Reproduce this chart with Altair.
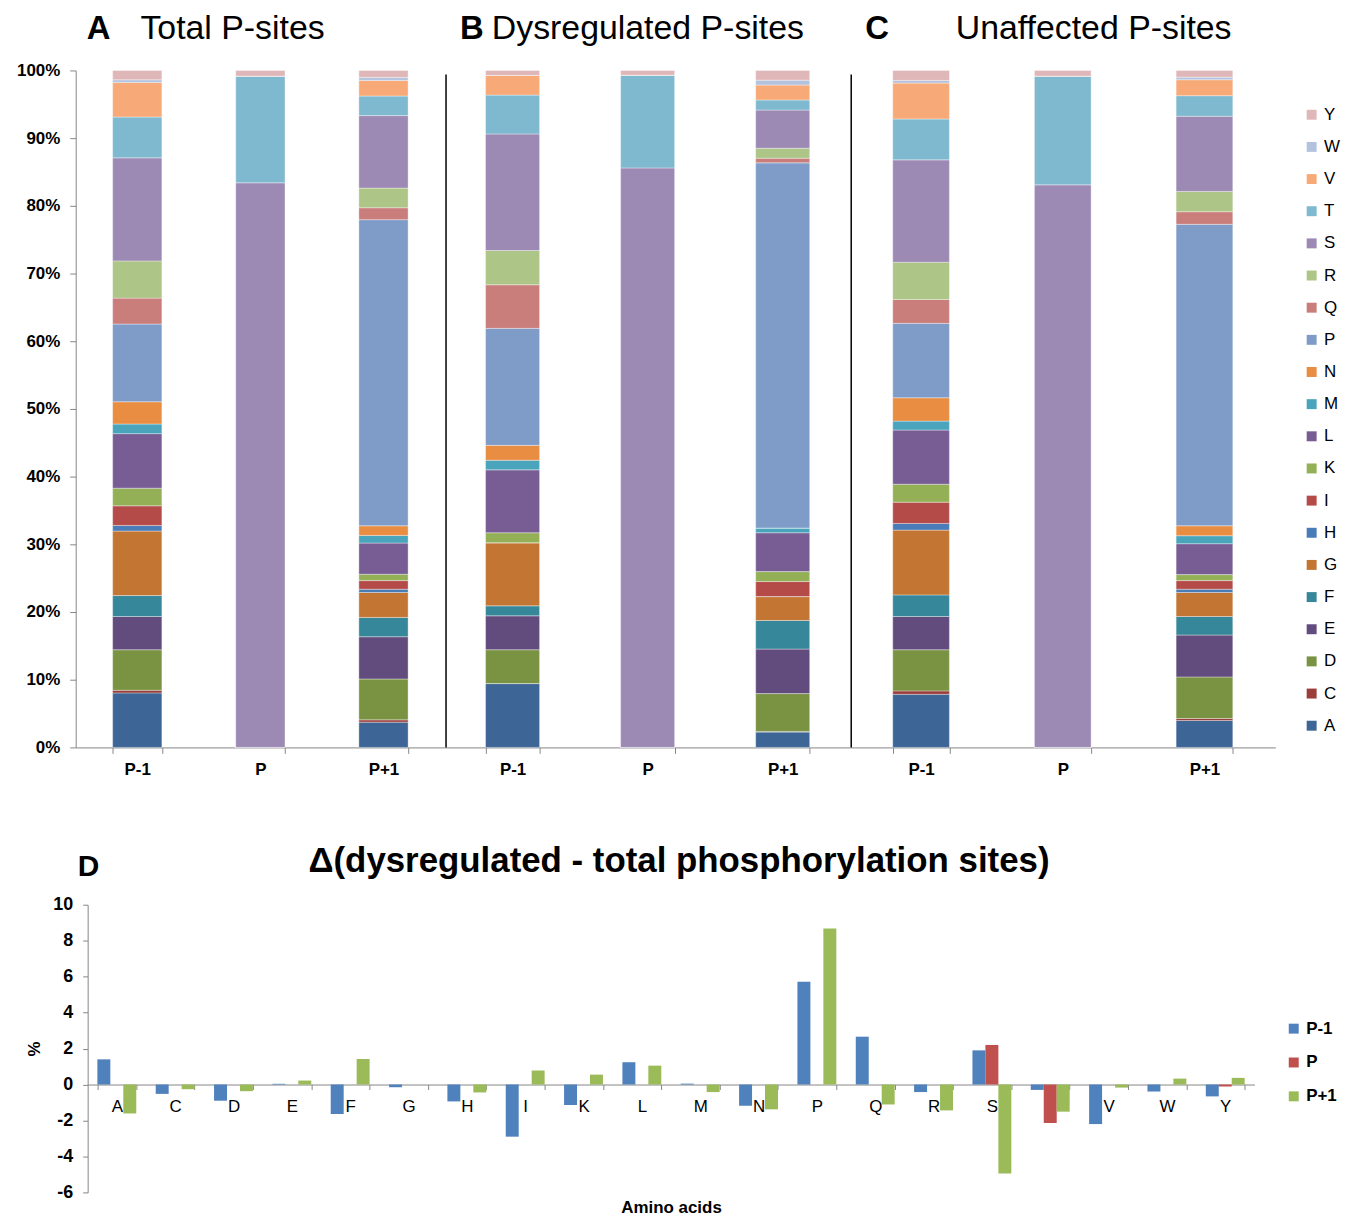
import altair as alt
import pandas as pd

FONT = "Liberation Sans"

# ---------------- data ----------------
amino_acids = ["A", "C", "D", "E", "F", "G", "H", "I", "K", "L",
               "M", "N", "P", "Q", "R", "S", "T", "V", "W", "Y"]
positions = ["P-1", "P", "P+1"]
aa_colors = ["#3D6596", "#9B3D3A", "#7A9343", "#624C7D", "#37879A",
             "#C37633", "#4A7DB8", "#B54B49", "#93B056", "#785D95",
             "#4AA4BC", "#E98D43", "#7F9CC8", "#C97E7C", "#ADC586",
             "#9C8AB4", "#7FB9CF", "#F7AA78", "#B3C3DF", "#E0B7B8"]

# Panel A: total P-sites (% of residues at each position)
total_pm1 = [8.05, 0.39, 5.99, 4.91, 3.09, 9.53, 0.83, 2.90, 2.60, 8.06,
             1.42, 3.29, 11.48, 3.83, 5.50, 15.22, 6.03, 5.11, 0.39, 1.38]
total_p = [0, 0, 0, 0, 0, 0, 0, 0, 0, 0,
           0, 0, 0, 0, 0, 83.40, 15.76, 0, 0, 0.84]
total_pp1 = [3.73, 0.34, 6.04, 6.24, 2.85, 3.68, 0.49, 1.27, 0.94, 4.61,
             1.13, 1.42, 45.22, 1.76, 2.90, 10.71, 2.89, 2.31, 0.44, 1.03]

# Panel B: dysregulated P-sites
dys_pm1 = [9.43, 0, 5.00, 5.01, 1.47, 9.33, 0, 0, 1.47, 9.29,
           1.42, 2.20, 17.28, 6.44, 5.06, 17.22, 5.74, 2.90, 0, 0.74]
dys_p = [0, 0, 0, 0, 0, 0, 0, 0, 0, 0,
         0, 0, 0, 0, 0, 85.60, 13.70, 0, 0, 0.70]
dys_pp1 = [2.26, 0.10, 5.59, 6.58, 4.22, 3.53, 0, 2.22, 1.47, 5.74,
           0.69, 0, 53.95, 0.69, 1.47, 5.64, 1.48, 2.21, 0.73, 1.43]

# Panel C: unaffected P-sites
unaff_pm1 = [7.85, 0.50, 6.08, 4.91, 3.19, 9.57, 0.99, 3.14, 2.65, 8.00,
             1.32, 3.45, 10.99, 3.53, 5.51, 15.11, 6.04, 5.30, 0.40, 1.47]
unaff_p = [0, 0, 0, 0, 0, 0, 0, 0, 0, 0,
           0, 0, 0, 0, 0, 83.10, 16.06, 0, 0, 0.84]
unaff_pp1 = [3.98, 0.29, 6.14, 6.19, 2.74, 3.54, 0.49, 1.27, 0.89, 4.56,
             1.18, 1.47, 44.53, 1.86, 3.00, 11.10, 3.04, 2.36, 0.38, 0.99]

panel_letters = ["A", "B", "C"]
panel_names = ["Total P-sites", "Dysregulated P-sites", "Unaffected P-sites"]
top_y_ticks = [0, 10, 20, 30, 40, 50, 60, 70, 80, 90, 100]

# Panel D: difference dysregulated - total (percentage points)
delta_pm1 = [1.40, -0.52, -0.90, 0.04, -1.64, -0.15, -0.94, -2.90, -1.14, 1.24,
             0.05, -1.18, 5.72, 2.66, -0.42, 1.90, -0.30, -2.20, -0.39, -0.66]
delta_p = [0, 0, 0, 0, 0, 0, 0, 0, 0, 0,
           0, 0, 0, 0, 0, 2.20, -2.14, 0, 0, -0.11]
delta_pp1 = [-1.61, -0.26, -0.37, 0.22, 1.42, 0, -0.44, 0.78, 0.55, 1.05,
             -0.42, -1.38, 8.67, -1.11, -1.44, -4.95, -1.51, -0.17, 0.33, 0.37]
series_colors = ["#4F81BD", "#C0504D", "#9BBB59"]
delta_letter = "D"
delta_title = "Δ(dysregulated - total phosphorylation sites)"
delta_x_title = "Amino acids"
delta_y_title = "%"
delta_y_ticks = [-6, -4, -2, 0, 2, 4, 6, 8, 10]

AXIS_GRAY = "#868686"
TOP_H = 680


def composition(pm1, p, pp1):
    rows = []
    for pos, vals in zip(positions, (pm1, p, pp1)):
        for i, (a, v) in enumerate(zip(amino_acids, vals)):
            rows.append({"position": pos, "aa": a, "rank": i, "pct": v})
    return pd.DataFrame(rows)


def label_text(text, dx, dy, size, weight, align="left"):
    return alt.Chart(pd.DataFrame({"t": [text]})).mark_text(
        font=FONT, fontSize=size, fontWeight=weight, align=align,
        baseline="alphabetic", color="black"
    ).encode(x=alt.value(dx), y=alt.value(dy), text="t:N")


def panel(df, width, letter, name, letter_dx, name_dx, first, last):
    if last:
        legend = alt.Legend(
            title=None, orient="none", legendX=455, legendY=36,
            symbolType="square", symbolSize=100, symbolStrokeWidth=0,
            labelFont=FONT, labelFontSize=17, labelColor="black",
            labelOffset=4, rowPadding=14.3, padding=0)
    else:
        legend = None
    if first:
        yaxis = alt.Axis(values=top_y_ticks, labelExpr="datum.value + '%'",
                         title=None, grid=False, domainColor=AXIS_GRAY,
                         tickColor=AXIS_GRAY, tickSize=6, labelFont=FONT,
                         labelFontSize=17, labelFontWeight="bold",
                         labelColor="black", labelPadding=10)
    else:
        yaxis = None
    bars = alt.Chart(df).mark_bar(stroke="white", strokeWidth=0.6,
                                  strokeOpacity=0.6).encode(
        x=alt.X("position:N",
                scale=alt.Scale(domain=positions, paddingInner=0.6, paddingOuter=0.3),
                axis=alt.Axis(title=None, labelAngle=0, labelFont=FONT,
                              labelFontSize=17, labelFontWeight="bold",
                              labelColor="black", domainColor=AXIS_GRAY,
                              tickColor=AXIS_GRAY, tickSize=6, tickBand="extent",
                              labelPadding=8)),
        y=alt.Y("pct:Q", stack="zero",
                scale=alt.Scale(domain=[0, 100], nice=False), axis=yaxis),
        color=alt.Color("aa:N",
                        scale=alt.Scale(domain=amino_acids[::-1], range=aa_colors[::-1]),
                        legend=legend),
        order=alt.Order("rank:Q", sort="ascending"),
    )
    layers = [bars,
              label_text(letter, letter_dx, -32, 33, "bold"),
              label_text(name, name_dx, -32, 34, "normal")]
    if not first:
        layers.append(alt.Chart(pd.DataFrame({"t": [0]})).mark_rule(
            color="black", strokeWidth=1.5).encode(
            x=alt.value(1), y=alt.value(4), y2=alt.value(TOP_H)))
    return alt.layer(*layers).properties(width=width, height=TOP_H)


pA = panel(composition(total_pm1, total_p, total_pp1), 371,
           panel_letters[0], panel_names[0], 11, 65, True, False)
pB = panel(composition(dys_pm1, dys_p, dys_pp1), 407,
           panel_letters[1], panel_names[1], 15, 47, False, False)
pC = panel(composition(unaff_pm1, unaff_p, unaff_pp1), 427,
           panel_letters[2], panel_names[2], 15, 106, False, True)

top = alt.hconcat(pA, pB, pC, spacing=0, bounds="flush").resolve_scale(
    color="independent", x="independent", y="independent")

# ---------------- panel D ----------------
drows = []
for s, vals in zip(positions, (delta_pm1, delta_p, delta_pp1)):
    for a, v in zip(amino_acids, vals):
        drows.append({"aa": a, "series": s, "delta": v})
ddf = pd.DataFrame(drows)

D_W = 1184
D_H = 289
zero_offset = -(D_H - D_H * 10 / 16)

dbars = alt.Chart(ddf).mark_bar().encode(
    x=alt.X("aa:N",
            scale=alt.Scale(domain=amino_acids, range=[12, D_W],
                            paddingInner=1 / 3, paddingOuter=1 / 6),
            axis=alt.Axis(title=delta_x_title, titleFont=FONT, titleFontSize=17,
                          titleFontWeight="bold", titleColor="black",
                          titleY=129, titleBaseline="alphabetic",
                          labelAngle=0, labelFont=FONT, labelFontSize=17,
                          labelColor="black", labelPadding=9,
                          domainColor=AXIS_GRAY, tickColor=AXIS_GRAY,
                          tickSize=5, tickBand="extent", offset=zero_offset)),
    xOffset=alt.XOffset("series:N", scale=alt.Scale(domain=positions)),
    y=alt.Y("delta:Q", scale=alt.Scale(domain=[-6, 10], nice=False),
            axis=alt.Axis(values=delta_y_ticks, labelExpr="'' + datum.value",
                          title=delta_y_title,
                          titleFont=FONT, titleFontSize=17, titleFontWeight="bold",
                          titleColor="black", titleX=-53, titleY=D_H / 2,
                          titleAngle=270, titleAlign="center", titleBaseline="middle",
                          grid=False, offset=-12, domainColor=AXIS_GRAY,
                          tickColor=AXIS_GRAY, tickSize=5, labelFont=FONT,
                          labelFontSize=18, labelFontWeight="bold",
                          labelColor="black", labelPadding=10)),
    color=alt.Color("series:N",
                    scale=alt.Scale(domain=positions, range=series_colors),
                    legend=alt.Legend(title=None, orient="none", legendX=1215,
                                      legendY=116, symbolType="square",
                                      symbolSize=100, symbolStrokeWidth=0,
                                      labelFont=FONT, labelFontSize=17,
                                      labelFontWeight="bold", labelColor="black",
                                      labelOffset=4, rowPadding=16, padding=0)),
)

bottom = alt.layer(
    dbars,
    label_text(delta_letter, 2, -29, 30, "bold"),
    label_text(delta_title, 606, -33, 35, "bold", align="center"),
).properties(width=D_W, height=D_H)

chart = alt.vconcat(top, bottom, spacing=67).resolve_scale(
    color="independent", x="independent", y="independent"
).properties(
    padding={"left": 8, "top": 1, "right": 5, "bottom": 5},
    background="white",
).configure_view(stroke=None)

chart.save("out.html", embed_options={"renderer": "svg", "actions": False})
